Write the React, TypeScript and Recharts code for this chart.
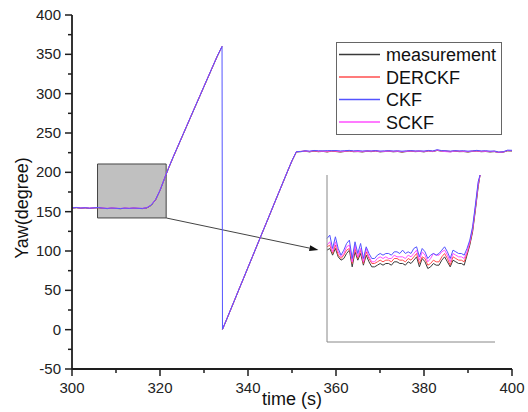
import { LineChart, Line, XAxis, YAxis, ReferenceArea, ReferenceLine } from "recharts";

const FONT = "Arial, 'Liberation Sans', sans-serif";

// main chart time grid (s)
const MAIN_T = [
  300, 301, 302, 303, 304, 305, 306, 307, 308, 309, 310, 311, 312, 313, 314, 315, 316,
  317, 318, 319, 320, 321, 322, 323, 324, 325, 326, 327, 328, 329, 330, 331, 332, 333, 334,
  334.1, 334.15, 334.2,
  335, 336, 337, 338, 339, 340, 341, 342, 343, 344, 345, 346, 347, 348, 349, 350, 351,
  352, 353, 354, 355, 356, 357, 358, 359, 360, 361, 362, 363, 364, 365, 366, 367, 368, 369, 370,
  371, 372, 373, 374, 375, 376, 377, 378, 379, 380, 381, 382, 383, 384, 385, 386, 387, 388, 389, 390,
  391, 392, 393, 394, 395, 396, 397, 398, 399, 400,
];

const MEASUREMENT = [
  154.6, 155.0, 154.4, 154.8, 154.2, 154.7, 155.0, 154.3, 153.9, 154.4, 154.1, 153.8, 154.3, 154.0, 154.4, 154.1, 153.9,
  154.7, 158.0, 165.0, 176.8, 191.6, 205.9, 219.2, 232.0, 244.9, 257.7, 270.6, 283.4, 296.1, 309.0, 321.7, 334.5, 347.2, 358.7,
  360, null, 0.3,
  10.9, 24.5, 38.1, 51.8, 65.3, 79.0, 92.5, 106.2, 119.8, 133.3, 146.9, 160.6, 174.2, 187.7, 201.3, 214.6, 225.9,
  226.3, 226.8, 226.0, 227.0, 226.2, 226.6, 225.9, 226.9, 226.4, 225.8, 226.5, 227.1, 226.2, 226.4, 225.9, 226.7, 226.3, 227.0, 226.0,
  226.4, 226.8, 226.1, 226.5, 225.7, 226.4, 226.9, 226.3, 226.6, 226.0, 227.1, 226.4, 227.8, 226.9, 226.7, 226.2, 226.9, 226.3, 226.4,
  225.8, 226.6, 227.0, 226.2, 226.5, 225.9, 226.3, 225.2, 225.6, 227.3, 227.1,
];

const DERCKF = [
  154.7, 155.1, 154.5, 154.9, 154.3, 154.8, 155.1, 154.4, 154.0, 154.5, 154.2, 153.9, 154.4, 154.1, 154.5, 154.2, 154.0,
  154.8, 158.2, 165.2, 177.0, 191.8, 206.1, 219.4, 232.2, 245.1, 257.9, 270.8, 283.6, 296.3, 309.2, 321.9, 334.7, 347.4, 358.8,
  360, null, 0.4,
  11.0, 24.6, 38.2, 51.9, 65.4, 79.1, 92.6, 106.3, 119.9, 133.4, 147.0, 160.7, 174.3, 187.8, 201.4, 214.7, 226.1,
  226.6, 227.1, 226.3, 227.4, 226.5, 227.0, 226.2, 227.2, 226.7, 226.1, 226.8, 227.5, 226.5, 226.8, 226.2, 227.1, 226.6, 227.4, 226.3,
  226.7, 227.2, 226.4, 226.9, 226.0, 226.8, 227.3, 226.6, 227.0, 226.3, 227.5, 226.7, 228.1, 227.2, 227.1, 226.5, 227.3, 226.6, 226.8,
  226.1, 227.0, 227.4, 226.5, 226.9, 226.2, 226.7, 225.5, 225.9, 227.6, 227.5,
];

const CKF = [
  154.8, 155.3, 154.6, 155.0, 154.4, 154.9, 155.2, 154.5, 154.1, 154.6, 154.3, 154.0, 154.5, 154.2, 154.6, 154.3, 154.1,
  155.0, 158.5, 165.5, 177.2, 192.0, 206.3, 219.6, 232.4, 245.3, 258.1, 271.0, 283.8, 296.5, 309.4, 322.1, 334.9, 347.6, 359.0,
  360, null, 0.5,
  11.2, 24.8, 38.4, 52.1, 65.6, 79.3, 92.8, 106.5, 120.1, 133.6, 147.2, 160.9, 174.5, 188.0, 201.6, 214.9, 226.3,
  226.4, 227.5, 226.9, 227.8, 227.4, 227.3, 227.6, 227.6, 227.7, 227.2, 227.5, 227.9, 227.3, 227.6, 227.1, 227.4, 227.2, 227.7, 227.0,
  227.3, 227.5, 227.1, 227.4, 226.9, 227.3, 227.6, 227.2, 227.3, 227.0, 227.8, 227.2, 228.8, 227.6, 227.4, 227.0, 227.6, 227.2, 227.5,
  226.9, 227.3, 227.9, 227.2, 227.5, 226.9, 227.2, 225.8, 226.2, 228.2, 228.0,
];

const SCKF = [
  154.9, 155.4, 154.7, 155.1, 154.5, 155.0, 155.3, 154.6, 154.2, 154.7, 154.4, 154.1, 154.6, 154.3, 154.7, 154.4, 154.2,
  155.1, 158.6, 165.6, 177.3, 192.1, 206.4, 219.7, 232.5, 245.4, 258.2, 271.1, 283.9, 296.6, 309.5, 322.2, 335.0, 347.7, 359.1,
  360, null, 0.5,
  11.3, 24.9, 38.5, 52.2, 65.7, 79.4, 92.9, 106.6, 120.2, 133.7, 147.3, 161.0, 174.6, 188.1, 201.7, 215.0, 226.4,
  226.6, 227.1, 226.7, 227.4, 227.0, 226.8, 226.9, 227.2, 227.1, 226.6, 226.9, 227.4, 226.9, 226.7, 226.6, 227.0, 227.0, 227.2, 226.7,
  226.6, 227.0, 226.8, 226.8, 226.4, 226.7, 227.1, 226.9, 226.8, 226.7, 227.3, 226.6, 228.3, 227.0, 226.3, 225.9, 227.1, 227.0, 226.7,
  226.5, 226.9, 227.2, 226.8, 226.8, 226.6, 226.6, 225.4, 225.9, 227.8, 227.6,
];

// zoomed inset (the grey box region)
const INSET_T = [
  306, 306.3, 306.6, 306.9, 307.2, 307.5, 307.8, 308.1, 308.4, 308.7,
  309, 309.3, 309.6, 309.9, 310.2, 310.5, 310.8, 311.1, 311.4, 311.7,
  312, 312.3, 312.6, 312.9, 313.2, 313.5, 313.8, 314.1, 314.4, 314.7,
  315, 315.3, 315.6, 315.9, 316.2, 316.5, 316.8, 317.1, 317.4, 317.7,
  318, 318.3, 318.6, 318.9, 319.2, 319.5, 319.8, 320.1, 320.4, 320.7,
  321, 321.3, 321.6, 321.9, 322.2, 322.4,
];

const INSET_MEASUREMENT = [
  155.5, 155.6, 155.2, 155.6, 155.1, 154.9, 155.0, 155.3, 155.5, 154.5,
  155.4, 154.9, 155.3, 154.6, 155.2, 154.8, 154.5, 154.5, 154.6, 154.7,
  154.6, 154.7, 154.7, 154.6, 154.8, 154.8, 154.7, 154.7, 154.6, 154.8,
  154.7, 154.9, 155.1, 154.5, 155.0, 154.8, 154.4, 154.5, 154.7, 154.6,
  154.6, 154.9, 155.1, 154.8, 154.5, 154.9, 154.8, 154.7, 154.7, 154.6,
  155.2, 155.8, 156.6, 157.9, 159.3, 160.0,
];

const INSET_DERCKF = [
  155.7, 155.8, 155.3, 155.8, 155.2, 155.0, 155.2, 155.5, 155.6, 154.7,
  155.6, 155.0, 155.5, 154.7, 155.4, 155.0, 154.7, 154.7, 154.8, 154.9,
  154.8, 154.9, 154.9, 154.8, 155.0, 155.0, 154.9, 154.9, 154.8, 155.0,
  154.9, 155.1, 155.3, 154.7, 155.1, 155.0, 154.6, 154.7, 154.9, 154.8,
  154.8, 155.1, 155.3, 155.0, 154.6, 155.1, 155.0, 154.9, 154.9, 154.8,
  155.3, 155.9, 156.7, 158.0, 159.4, 160.0,
];

const INSET_CKF = [
  156.2, 156.4, 155.6, 156.3, 155.6, 155.2, 155.5, 155.9, 156.1, 155.0,
  156.0, 155.3, 155.9, 155.0, 155.7, 155.3, 155.0, 155.0, 155.2, 155.3,
  155.2, 155.3, 155.3, 155.2, 155.4, 155.4, 155.3, 155.5, 155.3, 155.4,
  155.3, 155.6, 155.7, 155.1, 155.6, 155.4, 155.0, 155.2, 155.3, 155.2,
  155.3, 155.5, 155.7, 155.4, 155.0, 155.5, 155.4, 155.3, 155.3, 155.2,
  155.6, 156.1, 156.9, 158.2, 159.6, 160.0,
];

const INSET_SCKF = [
  155.8, 156.0, 155.4, 156.0, 155.4, 155.1, 155.3, 155.7, 155.8, 154.8,
  155.8, 155.1, 155.6, 154.8, 155.6, 155.1, 154.8, 154.8, 155.0, 155.1,
  155.0, 155.1, 155.0, 155.0, 155.2, 155.1, 155.1, 155.1, 155.0, 155.2,
  155.1, 155.3, 155.5, 154.9, 155.4, 155.2, 154.8, 155.0, 155.3, 155.2,
  155.2, 155.4, 155.5, 155.2, 154.8, 155.3, 155.2, 155.1, 155.1, 155.0,
  155.4, 156.0, 156.8, 158.1, 159.5, 160.0,
];

const Y_TICKS = [-50, -25, 0, 25, 50, 75, 100, 125, 150, 175, 200, 225, 250, 275, 300, 325, 350, 375, 400];
const X_TICKS = [300, 310, 320, 330, 340, 350, 360, 370, 380, 390, 400];
const INSET_Y_TICKS = [150, 150.5, 151, 151.5, 152, 152.5, 153, 153.5, 154, 154.5, 155, 155.5, 156, 156.5, 157, 157.5, 158, 158.5, 159, 159.5, 160];
const INSET_X_TICKS = [306, 314, 324];

const SERIES = [
  { key: "measurement", name: "measurement", color: "#3a3a3a" },
  { key: "derckf", name: "DERCKF", color: "#ff4f4f" },
  { key: "ckf", name: "CKF", color: "#5454ff" },
  { key: "sckf", name: "SCKF", color: "#ff4fff" },
];
// drawing order: CKF on top
const DRAW_ORDER = ["measurement", "derckf", "sckf", "ckf"];

const mainData = MAIN_T.map((t, i) => ({
  t,
  measurement: MEASUREMENT[i],
  derckf: DERCKF[i],
  ckf: CKF[i],
  sckf: SCKF[i],
}));

const insetData = INSET_T.map((t, i) => ({
  t,
  measurement: INSET_MEASUREMENT[i],
  derckf: INSET_DERCKF[i],
  ckf: INSET_CKF[i],
  sckf: INSET_SCKF[i],
}));

const AXIS = "#1e1e1e";

function YTick(props: any) {
  const { x, y, payload } = props;
  const major = payload.value % 50 === 0;
  return (
    <g>
      <line x1={x - (major ? 7 : 4)} x2={x} y1={y} y2={y} stroke={AXIS} strokeWidth={1.5} />
      {major && (
        <text x={x - 11} y={y} dy={5} textAnchor="end" fontSize={15} fill="#222" fontFamily={FONT}>
          {payload.value}
        </text>
      )}
    </g>
  );
}

function XTick(props: any) {
  const { x, y, payload } = props;
  const major = payload.value % 20 === 0;
  return (
    <g>
      <line x1={x} x2={x} y1={y} y2={y + (major ? 7 : 4)} stroke={AXIS} strokeWidth={1.5} />
      {major && (
        <text x={x} y={y + 24} textAnchor="middle" fontSize={15} fill="#222" fontFamily={FONT}>
          {payload.value}
        </text>
      )}
    </g>
  );
}

// zoom arrow from the grey box to the inset
function Arrow(props: any) {
  const { x1, y1, x2, y2 } = props;
  const a = Math.atan2(y2 - y1, x2 - x1);
  const len = 9;
  const w = 3;
  const bx = x2 - len * Math.cos(a);
  const by = y2 - len * Math.sin(a);
  const pts = [
    `${x2},${y2}`,
    `${bx - w * Math.sin(a)},${by + w * Math.cos(a)}`,
    `${bx + w * Math.sin(a)},${by - w * Math.cos(a)}`,
  ].join(" ");
  return (
    <g>
      <line x1={x1} y1={y1} x2={bx} y2={by} stroke="#444" strokeWidth={1} />
      <polygon points={pts} fill="#111" />
    </g>
  );
}

function LegendBox() {
  return (
    <svg width={166} height={93} style={{ position: "absolute", left: 336, top: 42, display: "block" }}>
      <rect x={0.5} y={0.5} width={165} height={92} fill="#fff" stroke="#666" strokeWidth={1} />
      {SERIES.map((s, i) => {
        const cy = 12.5 + i * 22.5;
        return (
          <g key={s.key}>
            <line x1={3} x2={44} y1={cy} y2={cy} stroke={s.color} strokeWidth={1.5} />
            <text x={50} y={cy + 6.5} fontSize={18} fill="#111" fontFamily={FONT}>
              {s.name}
            </text>
          </g>
        );
      })}
    </svg>
  );
}

const colorOf = (k: string) => SERIES.find((s) => s.key === k)!.color;
const nameOf = (k: string) => SERIES.find((s) => s.key === k)!.name;

export default function App() {
  return (
    <div style={{ position: "absolute", left: 0, top: 0, width: 528, height: 412, background: "#fff", fontFamily: FONT }}>
      <LineChart width={528} height={412} data={mainData} margin={{ top: 15, right: 16, bottom: 13, left: 22 }}>
        <XAxis
          dataKey="t"
          type="number"
          domain={[300, 400]}
          ticks={X_TICKS}
          interval={0}
          tickSize={0}
          tickMargin={0}
          tickLine={false}
          tick={<XTick />}
          height={30}
          axisLine={{ stroke: AXIS, strokeWidth: 1.8 }}
        />
        <YAxis
          type="number"
          domain={[-50, 400]}
          ticks={Y_TICKS}
          interval={0}
          tickSize={0}
          tickMargin={0}
          tickLine={false}
          tick={<YTick />}
          width={50}
          axisLine={{ stroke: AXIS, strokeWidth: 1.8 }}
        />
        <ReferenceArea x1={305.8} x2={321.4} y1={142} y2={210.6} fill="#c0c0c0" fillOpacity={1} stroke="#444" strokeWidth={1} />
        <ReferenceLine
          segment={[
            { x: 321.4, y: 142 },
            { x: 356, y: 101.3 },
          ]}
          stroke="#444"
          shape={<Arrow />}
        />
        {DRAW_ORDER.map((k) => (
          <Line
            key={k}
            dataKey={k}
            name={nameOf(k)}
            stroke={colorOf(k)}
            strokeWidth={1}
            dot={false}
            connectNulls={k === "ckf"}
            isAnimationActive={false}
          />
        ))}
        <text x={292} y={405} textAnchor="middle" fontSize={18} fill="#111" fontFamily={FONT}>
          time (s)
        </text>
        <text
          transform="translate(22,208) rotate(-90)"
          textAnchor="middle"
          dominantBaseline="central"
          fontSize={18}
          fill="#111"
          fontFamily={FONT}
        >
          Yaw(degree)
        </text>
      </LineChart>

      <LegendBox />

      <div style={{ position: "absolute", left: 323, top: 173 }}>
        <LineChart width={175} height={173} data={insetData} margin={{ top: 2, right: 3, bottom: 0, left: 0 }}>
          <XAxis
            dataKey="t"
            type="number"
            domain={[306, 324]}
            ticks={INSET_X_TICKS}
            interval={0}
            tick={false}
            tickSize={3}
            height={4}
            tickLine={{ stroke: "#888" }}
            axisLine={{ stroke: "#888" }}
          />
          <YAxis
            type="number"
            domain={[150, 160]}
            ticks={INSET_Y_TICKS}
            interval={0}
            tick={false}
            tickSize={3}
            width={4}
            tickLine={{ stroke: "#888" }}
            axisLine={{ stroke: "#888" }}
          />
          {DRAW_ORDER.map((k) => (
            <Line key={k} dataKey={k} stroke={colorOf(k)} strokeWidth={1} dot={false} isAnimationActive={false} />
          ))}
        </LineChart>
      </div>
    </div>
  );
}
